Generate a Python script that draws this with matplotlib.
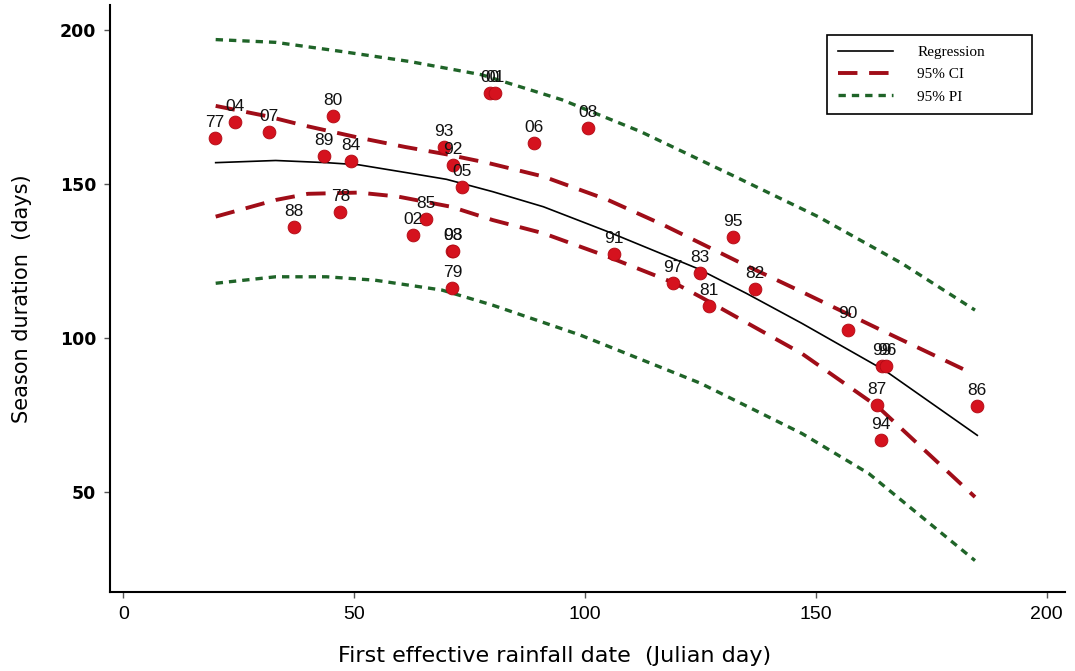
import matplotlib
matplotlib.use("Agg")
import matplotlib.pyplot as plt

# season labels (year of the season) with first rainfall date and season duration
years = ['77', '04', '07', '80', '89', '84', '93', '92', '05', '78', '88', '02', '85', '98', '03', '79',
         '00', '01', '06', '08', '91', '95', '83', '97', '81', '82', '90', '99', '96', '87', '94', '86']
first_rain = [19.9, 24.1, 31.5, 45.4, 43.4, 49.3, 69.4, 71.4, 73.4, 47.0, 37.0, 62.7, 65.5, 71.3, 71.4, 71.3,
              79.5, 80.6, 89.0, 100.7, 106.3, 132.1, 124.9, 119.1, 126.8, 136.8, 156.9, 164.3, 165.3, 163.2, 164.2, 185.0]
duration = [165.0, 170.0, 166.8, 171.9, 158.9, 157.5, 162.1, 156.0, 148.9, 141.0, 135.9, 133.4, 138.6, 128.3, 128.3, 116.3,
            179.4, 179.4, 163.2, 168.1, 127.3, 132.9, 121.0, 118.0, 110.4, 115.8, 102.8, 90.9, 90.9, 78.2, 67.1, 77.9]

# curves
reg_x = [20, 33, 44, 51, 62, 70, 80, 91, 105, 124.5, 135, 147, 165, 185]
reg_y = [156.9, 157.6, 156.9, 156.2, 153.5, 151.5, 147.5, 142.6, 134.5, 122.5, 114.5, 104.8, 89.5, 68.5]

ci_up_x = [20, 31, 39, 51, 61, 70, 79, 91, 105, 117, 134, 147, 163.5, 184]
ci_up_y = [175.3, 172.0, 169.0, 165.0, 162.0, 159.6, 156.8, 152.4, 144.8, 136.7, 124.2, 115.0, 103.1, 88.5]

ci_lo_x = [20, 33, 40, 51, 59.5, 71, 80, 91, 105, 119.5, 125, 147, 163.5, 184.5]
ci_lo_y = [139.4, 144.8, 146.8, 147.2, 145.9, 142.6, 138.3, 134.0, 126.4, 117.8, 113.4, 95.0, 77.7, 48.5]

pi_up_x = [20, 33, 47, 62, 77.6, 95, 112, 132.5, 150.5, 168.6, 184.5]
pi_up_y = [196.8, 195.9, 193.0, 189.7, 185.4, 177.3, 167.0, 152.4, 139.4, 124.3, 109.1]

pi_lo_x = [20, 33, 44, 54.5, 69, 80, 99, 125, 147, 161.5, 184.5]
pi_lo_y = [117.8, 119.9, 119.9, 118.8, 115.6, 110.7, 101.0, 85.4, 69.1, 56.1, 27.9]

fig = plt.figure(figsize=(10.75, 6.71), dpi=100)
ax = fig.add_axes([0.1023, 0.1177, 0.8884, 0.8748])

ci_col = '#a00d18'
pi_col = '#1f6428'

ax.plot(reg_x, reg_y, color='black', lw=1.2, label='Regression', zorder=2)
ax.plot(ci_up_x, ci_up_y, color=ci_col, lw=2.8, dashes=(5, 3), label='95% CI', zorder=2)
ax.plot(ci_lo_x, ci_lo_y, color=ci_col, lw=2.8, dashes=(5, 3), zorder=2)
ax.plot(pi_up_x, pi_up_y, color=pi_col, lw=2.4, dashes=(2.2, 1.8), label='95% PI', zorder=2)
ax.plot(pi_lo_x, pi_lo_y, color=pi_col, lw=2.4, dashes=(2.2, 1.8), zorder=2)

ax.scatter(first_rain, duration, s=85, color='#d5121e', edgecolors='#b00a14', linewidths=0.6, zorder=3)
for yr, x, y in zip(years, first_rain, duration):
    ax.annotate(yr, (x, y), xytext=(0, 8), textcoords='offset points', ha='center', va='baseline',
                fontsize=12.5, family='Liberation Sans', color='#111111', zorder=4)

ax.set_xlim(-2.9, 204)
ax.set_ylim(17.7, 208)
ax.set_xticks([0, 50, 100, 150, 200])
ax.set_yticks([50, 100, 150, 200])
for lab in ax.get_xticklabels():
    lab.set_family('Liberation Sans')
    lab.set_fontsize(14)
for lab in ax.get_yticklabels():
    lab.set_family('DejaVu Sans')
    lab.set_fontsize(12.5)
    lab.set_fontweight('bold')
ax.tick_params(axis='both', length=4, width=1, color='#555555', pad=6)

ax.spines['top'].set_visible(False)
ax.spines['right'].set_visible(False)
ax.spines['left'].set_linewidth(1.5)
ax.spines['bottom'].set_linewidth(1.5)

ax.set_xlabel('First effective rainfall date  (Julian day)', fontsize=16, family='DejaVu Sans')
ax.xaxis.set_label_coords(0.466, -0.092)
ax.set_ylabel('Season duration  (days)', fontsize=15, family='DejaVu Sans')
ax.yaxis.set_label_coords(-0.082, 0.5)

leg = ax.legend(loc='upper left', bbox_to_anchor=(827 / 1075, 1 - 118 / 671, 205 / 1075, 83 / 671),
                bbox_transform=fig.transFigure, mode='expand', borderaxespad=0, fancybox=False,
                framealpha=1, edgecolor='black', prop={'family': 'Liberation Serif', 'size': 11},
                handlelength=3.6, handletextpad=1.6, labelspacing=0.55, borderpad=0.7)
leg.get_frame().set_linewidth(1.2)

fig.savefig('out.png', dpi=100)
